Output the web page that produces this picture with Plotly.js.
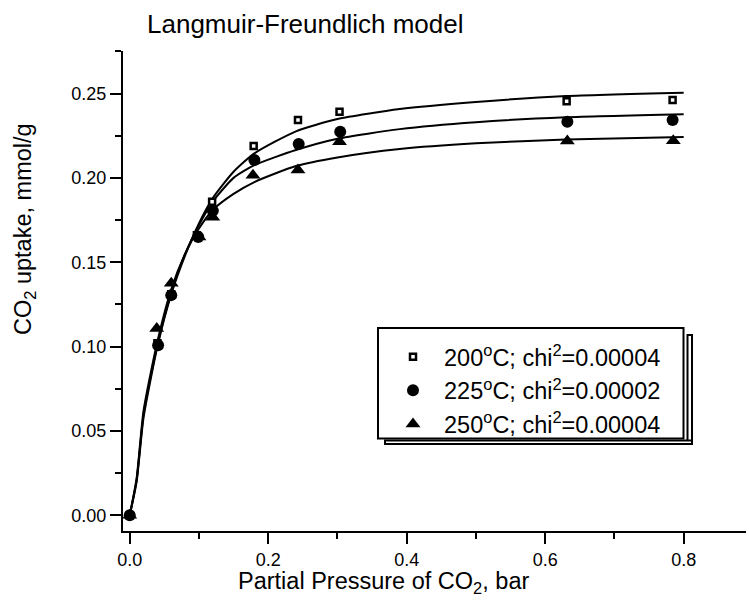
<!DOCTYPE html>
<html><head><meta charset="utf-8">
<script src="https://cdn.plot.ly/plotly-3.0.1.min.js"></script>
<style>body{margin:0;background:#fff}#plot{width:749px;height:601px}</style>
</head><body><div id="plot"></div>
<script>
// measured points
const x200 = [0, 0.040, 0.060, 0.097, 0.119, 0.179, 0.243, 0.303, 0.631, 0.784];
const y200 = [0, 0.102, 0.131, 0.166, 0.1858, 0.2189, 0.2343, 0.2392, 0.2454, 0.2461];
const x225 = [0, 0.041, 0.060, 0.099, 0.120, 0.180, 0.244, 0.304, 0.632, 0.784];
const y225 = [0, 0.1008, 0.1305, 0.165, 0.1805, 0.2106, 0.2201, 0.2273, 0.2333, 0.2343];
const x250 = [0, 0.039, 0.060, 0.100, 0.120, 0.178, 0.243, 0.303, 0.632, 0.785];
const y250 = [0, 0.1107, 0.1376, 0.165, 0.1766, 0.2015, 0.2046, 0.2214, 0.2218, 0.2220];
// fitted curves
const fitX = [0, 0.01, 0.02, 0.04, 0.06, 0.08, 0.10, 0.12, 0.15, 0.18, 0.24, 0.30, 0.39, 0.50, 0.63, 0.80];
const fit200 = [0, 0.020, 0.058, 0.100, 0.131, 0.154, 0.173, 0.188, 0.2036, 0.2145, 0.2276, 0.2349, 0.2408, 0.2450, 0.2485, 0.2505];
const fit225 = [0, 0.021, 0.060, 0.101, 0.132, 0.155, 0.172, 0.186, 0.2000, 0.2075, 0.2165, 0.2232, 0.2289, 0.2330, 0.2359, 0.2377];
const fit250 = [0, 0.022, 0.062, 0.103, 0.134, 0.155, 0.170, 0.181, 0.1905, 0.1975, 0.2070, 0.2121, 0.2171, 0.2205, 0.2228, 0.2242];
const names = ['200<sup>o</sup>C; chi<sup>2</sup>=0.00004', '225<sup>o</sup>C; chi<sup>2</sup>=0.00002', '250<sup>o</sup>C; chi<sup>2</sup>=0.00004'];
const xTitle = 'Partial Pressure of CO<sub>2</sub>, bar';
const yTitle = 'CO<sub>2</sub> uptake, mmol/g';
const chartTitle = 'Langmuir-Freundlich model';

const F = 'Liberation Sans, Arial, sans-serif';
const lineStyle = {color: '#000', width: 2};
const fitTrace = (y) => ({x: fitX, y: y, mode: 'lines', line: Object.assign({shape: 'spline', smoothing: 0.6}, lineStyle), showlegend: false, hoverinfo: 'skip'});
const traces = [
  fitTrace(fit200), fitTrace(fit225), fitTrace(fit250),
  {x: x200, y: y200, mode: 'markers', name: names[0], marker: {symbol: 'square', size: 6, color: '#fff', line: {color: '#000', width: 2.5}}},
  {x: x225, y: y225, mode: 'markers', name: names[1], marker: {symbol: 'circle', size: 12, color: '#000', line: {width: 0}}},
  {x: x250, y: y250, mode: 'markers', name: names[2], marker: {symbol: 'triangle-up', size: 13, color: '#000', line: {width: 0}}}
];
const px = (p) => (p - 123) / 623;
const py = (p) => (531 - p) / 480;
const axisCommon = {showgrid: false, zeroline: false, showline: true, linecolor: '#000', linewidth: 2,
  ticks: 'outside', ticklen: 11, tickwidth: 2, tickcolor: '#000',
  tickfont: {family: F, size: 18, color: '#000'}, fixedrange: true};
const box = (x0, y0, x1, y1) => ({type: 'rect', xref: 'paper', yref: 'paper', x0: px(x0), x1: px(x1), y0: py(y1), y1: py(y0), line: {color: '#000', width: 2}, fillcolor: '#fff', layer: 'above'});
const layout = {
  width: 749, height: 601, paper_bgcolor: '#fff', plot_bgcolor: '#fff',
  margin: {l: 123, r: 3, t: 51, b: 70},
  font: {family: F, color: '#000'},
  title: {text: chartTitle, font: {family: F, size: 26, color: '#000'}, x: 147 / 749, xanchor: 'left', xref: 'container', y: 1 - 24 / 601, yanchor: 'middle', yref: 'container'},
  xaxis: Object.assign({}, axisCommon, {range: [-0.0097, 0.89], dtick: 0.2, tick0: 0, tickformat: '.1f',
    minor: {dtick: 0.1, tick0: 0, ticks: 'outside', ticklen: 6, tickwidth: 2, tickcolor: '#000'}}),
  yaxis: Object.assign({}, axisCommon, {range: [-0.0093, 0.2752], dtick: 0.05, tick0: 0, tickformat: '.2f',
    minor: {dtick: 0.025, tick0: 0, ticks: 'outside', ticklen: 6, tickwidth: 2, tickcolor: '#000'}}),
  showlegend: true,
  legend: {x: px(382), y: py(335), xanchor: 'left', yanchor: 'top', xref: 'paper', yref: 'paper', bgcolor: 'rgba(0,0,0,0)', borderwidth: 0,
    font: {family: F, size: 23.5, color: '#000'}, tracegroupgap: 0, itemwidth: 52},
  shapes: [
    box(687.5, 335, 692, 444),
    box(385, 440.5, 692, 444),
    box(378, 328, 683.5, 438.5)
  ],
  annotations: [
    {text: yTitle, xref: 'paper', yref: 'paper', x: px(24), y: py(229), textangle: -90, showarrow: false, font: {family: F, size: 23.5, color: '#000'}, xanchor: 'center', yanchor: 'middle'},
    {text: xTitle, xref: 'paper', yref: 'paper', x: px(383), y: py(582), showarrow: false, font: {family: F, size: 23.5, color: '#000'}, xanchor: 'center', yanchor: 'middle'}
  ]
};
Plotly.newPlot('plot', traces, layout, {displayModeBar: false, staticPlot: true});
</script></body></html>
